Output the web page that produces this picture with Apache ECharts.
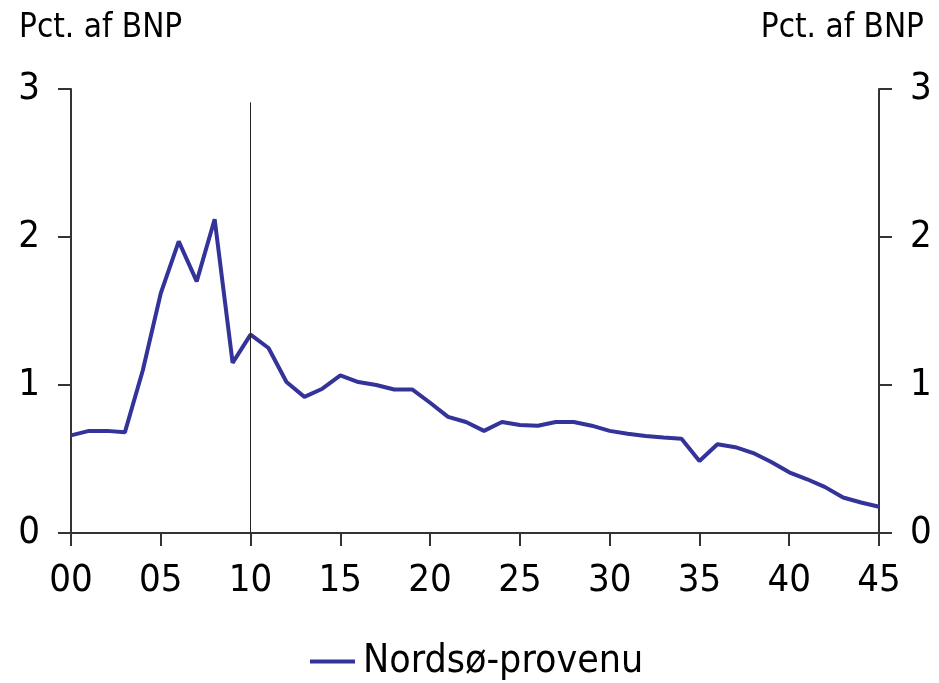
<!DOCTYPE html>
<html>
<head>
<meta charset="utf-8">
<script src="https://cdn.jsdelivr.net/npm/echarts@6/dist/echarts.min.js"></script>
<style>
html,body{margin:0;padding:0;background:#fff;}
#chart{width:939px;height:683px;}
</style>
</head>
<body>
<div id="chart"></div>
<script>
// Data
const years = ['00','01','02','03','04','05','06','07','08','09',
  '10','11','12','13','14','15','16','17','18','19',
  '20','21','22','23','24','25','26','27','28','29',
  '30','31','32','33','34','35','36','37','38','39',
  '40','41','42','43','44','45'];
const nordsoProvenu = [0.66,0.69,0.69,0.68,1.10,1.62,1.97,1.70,2.12,1.15,
  1.34,1.25,1.02,0.92,0.975,1.065,1.02,1.00,0.97,0.97,
  0.88,0.785,0.75,0.69,0.75,0.73,0.725,0.75,0.75,0.725,
  0.69,0.67,0.655,0.645,0.637,0.486,0.60,0.58,0.54,0.48,
  0.41,0.363,0.31,0.24,0.206,0.177];
const seriesName = 'Nordsø-provenu';
const axisTitle = 'Pct. af BNP';
const yTicks = [0, 1, 2, 3];
const markerYear = '10';
const markerTop = 2.91;

const FONT = '"DejaVu Sans Condensed", "DejaVu Sans", sans-serif';
const chart = echarts.init(document.getElementById('chart'), null, {renderer: 'canvas'});

function yAxisDef(pos) {
  return {
    type: 'value',
    position: pos,
    min: yTicks[0],
    max: yTicks[yTicks.length - 1],
    interval: 1,
    splitLine: {show: false},
    axisLine: {show: true, lineStyle: {color: '#333', width: 2}},
    axisTick: {show: true, length: 13, lineStyle: {color: '#333', width: 2}},
    axisLabel: {margin: 31, color: '#000', fontFamily: FONT, fontSize: 38}
  };
}

chart.setOption({
  animation: false,
  backgroundColor: '#fff',
  title: [
    {text: axisTitle, left: 14, top: 7, textStyle: {fontFamily: FONT, fontSize: 33, fontWeight: 'normal', color: '#000'}},
    {text: axisTitle, right: 10, top: 7, textStyle: {fontFamily: FONT, fontSize: 33, fontWeight: 'normal', color: '#000'}}
  ],
  grid: {left: 71, right: 60, top: 89, bottom: 150, containLabel: false},
  legend: {
    data: [seriesName],
    left: 305,
    top: 637,
    itemWidth: 45,
    itemHeight: 4,
    icon: 'rect',
    textStyle: {fontFamily: FONT, fontSize: 39, color: '#000', padding: [0, 0, 0, 3]}
  },
  xAxis: {
    type: 'category',
    data: years,
    boundaryGap: false,
    axisLine: {show: true, lineStyle: {color: '#333', width: 2}},
    axisTick: {show: true, interval: 4, length: 13, lineStyle: {color: '#333', width: 2}},
    axisLabel: {interval: 4, margin: 29, color: '#000', fontFamily: FONT, fontSize: 38},
    splitLine: {show: false}
  },
  yAxis: [yAxisDef('left'), yAxisDef('right')],
  series: [{
    name: seriesName,
    type: 'line',
    data: nordsoProvenu,
    showSymbol: false,
    symbol: 'none',
    lineStyle: {color: '#333399', width: 4},
    itemStyle: {color: '#333399'},
    markLine: {
      silent: true,
      symbol: 'none',
      label: {show: false},
      lineStyle: {color: '#222', width: 1, type: 'solid'},
      data: [[{coord: [markerYear, markerTop]}, {coord: [markerYear, 0]}]]
    }
  }]
});
</script>
</body>
</html>
